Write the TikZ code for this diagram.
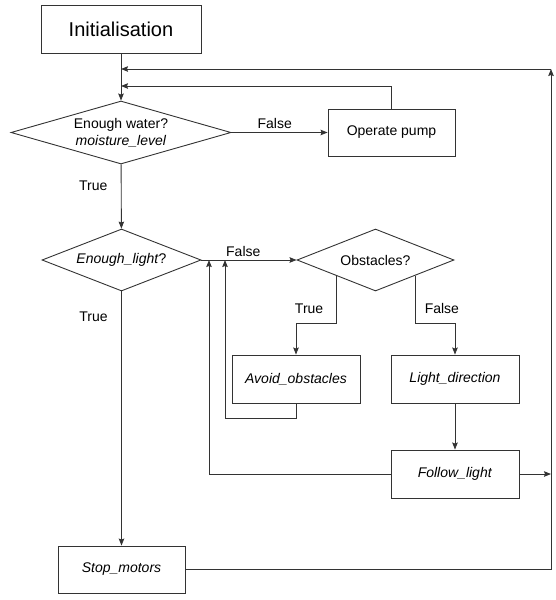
\documentclass[tikz,border=0pt]{standalone}
\usepackage{fontspec}
\setmainfont{Liberation Sans}
\usetikzlibrary{shapes.geometric,arrows.meta}

\begin{document}
\begin{tikzpicture}[x=1pt,y=-1pt,
    line width=0.9pt, draw=black!80,
    font=\fontsize{14}{17}\selectfont,
    box/.style={draw, rectangle, minimum width=127pt, minimum height=47pt, inner sep=0pt},
    decision/.style={draw, diamond, inner sep=0pt, align=center},
    arr/.style={-{Stealth[length=7pt,width=5.5pt,inset=1pt]}}]
    \useasboundingbox (0,0) rectangle (556,600);

    % boxes and decisions
    \node[box, minimum width=160pt, minimum height=48pt, font=\fontsize{20}{24}\selectfont] (init) at (121,29) {Initialisation};
    \node[decision, aspect=3.5, minimum width=220pt, minimum height=63pt] (water) at (121,132.5) {Enough water?\\\textit{moisture\_level}};
    \node[box] (pump) at (391.5,132.5) {Operate pump};
    \node[decision, aspect=2.56, minimum width=159pt, minimum height=62pt] (light) at (121.5,260) {\textit{Enough\_light}?};
    \node[decision, aspect=2.53, minimum width=157pt, minimum height=62pt] (obst) at (375.5,260) {Obstacles?};
    \node[box, minimum width=128pt, minimum height=48pt] (avoid) at (296,379) {\textit{Avoid\_obstacles}};
    \node[box, minimum width=128pt, minimum height=48pt] (ldir) at (455,379) {\textit{Light\_direction}};
    \node[box, minimum width=128pt, minimum height=48pt] (follow) at (455,474) {\textit{Follow\_light}};
    \node[box] (stop) at (121.5,569.5) {\textit{Stop\_motors}};

    % joints of the loops
    \coordinate (back1) at (121,69);
    \coordinate (back2) at (121,86);
    \coordinate (j1) at (209,260);
    \coordinate (j2) at (225,260);
    \coordinate (rt) at (551,69);

    % connectors
    \draw[arr] (init) -- (water);
    \draw[arr] (water) -- node[above, pos=.45] {False} (pump);
    \draw[arr] (pump.north) |- (back2);
    \draw[arr] (water) -- node[left=10pt, pos=.34] {True} (light);
    \draw[arr] (light) -- node[left=10pt, pos=.1] {True} (stop);
    \draw[arr] (light) -- node[above, pos=.44] {False} (obst);
    \draw[arr] (obst.south west) -- node[left=9pt, pos=.7] {True} ++(0,47.5) -| (avoid.north);
    \draw[arr] (obst.south east) -- node[right=6pt, pos=.7] {False} ++(0,47.5) -| (ldir.north);
    \draw[arr] (avoid.south) -- ++(0,15) -| (j2);
    \draw[arr] (ldir) -- (follow);
    \draw[arr] (follow) -| (j1);
    \draw[arr] (follow.east) -- (follow.east -| rt);
    \draw[arr] (stop) -| (rt);
    \draw[arr] (rt) -- (back1);
\end{tikzpicture}
\end{document}
